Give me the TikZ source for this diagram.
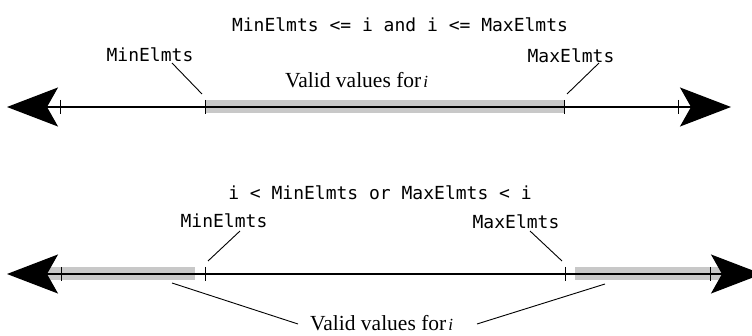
\documentclass[tikz,border=0pt]{standalone}
\usepackage{fontspec}
\setmainfont{Liberation Serif}
\setmonofont{DejaVu Sans Mono}
\usetikzlibrary{arrows.meta}
\definecolor{bandgray}{RGB}{200,200,200}
\begin{document}
\begin{tikzpicture}[x=1pt,y=-1pt,
  bigtip/.tip={Stealth[length=51pt,width=39pt,inset=11pt]},
  axis/.style={line width=1.3pt,{bigtip}-{bigtip}},
  tickmark/.style={line width=0.9pt},
  band/.style={fill=bandgray,draw=none},
  lead/.style={line width=0.9pt},
  mono/.style={font=\ttfamily\fontsize{18}{20}\selectfont,inner sep=0pt,anchor=base},
  serif/.style={font=\fontsize{21.5}{24}\selectfont,inner sep=0pt,anchor=base west}]
\clip (0,0) rectangle (752,336);
% ---------- top number line ----------
\node[mono] (titleA) at (400,32) {MinElmts <= i and i <= MaxElmts};
\node[mono] (minA) at (150,62) {MinElmts};
\node[mono] (maxA) at (571,63) {MaxElmts};
\node[serif] (validA) at (285,88) {Valid values for\hspace{2pt}\textit{\fontsize{17}{20}\selectfont i}};
\fill[band] (205,100) rectangle (564,113);
\coordinate (lA) at (7,107);
\coordinate (rA) at (731,107);
\draw[axis] (lA) -- (rA);
\foreach \x in {60,205,564,678} \draw[tickmark] (\x,100) -- (\x,114);
\coordinate (minA1) at (172,63); \coordinate (minA2) at (202,94);
\coordinate (maxA1) at (599,63); \coordinate (maxA2) at (567,94);
\draw[lead] (minA1) -- (minA2);
\draw[lead] (maxA1) -- (maxA2);
% ---------- bottom number line ----------
\node[mono] (titleB) at (380,200) {i < MinElmts or MaxElmts < i};
\node[mono] (minB) at (224,228) {MinElmts};
\node[mono] (maxB) at (516,229) {MaxElmts};
\node[serif] (validB) at (310,331) {Valid values for\hspace{2pt}\textit{\fontsize{17}{20}\selectfont i}};
\fill[band] (45,267) rectangle (195,280);
\fill[band] (575,267) rectangle (730,280);
\coordinate (lB) at (7,274);
\coordinate (rB) at (762,274);
\draw[axis] (lB) -- (rB);
\foreach \x in {61,205,565,710} \draw[tickmark] (\x,267) -- (\x,281);
\coordinate (minB1) at (240,231); \coordinate (minB2) at (208,261);
\coordinate (maxB1) at (530,231); \coordinate (maxB2) at (562,261);
\draw[lead] (minB1) -- (minB2);
\draw[lead] (maxB1) -- (maxB2);
\coordinate (vL1) at (172,283); \coordinate (vL2) at (298,324);
\coordinate (vR1) at (477,324); \coordinate (vR2) at (605,284);
\draw[lead] (vL1) -- (vL2);
\draw[lead] (vR1) -- (vR2);
\end{tikzpicture}
\end{document}
